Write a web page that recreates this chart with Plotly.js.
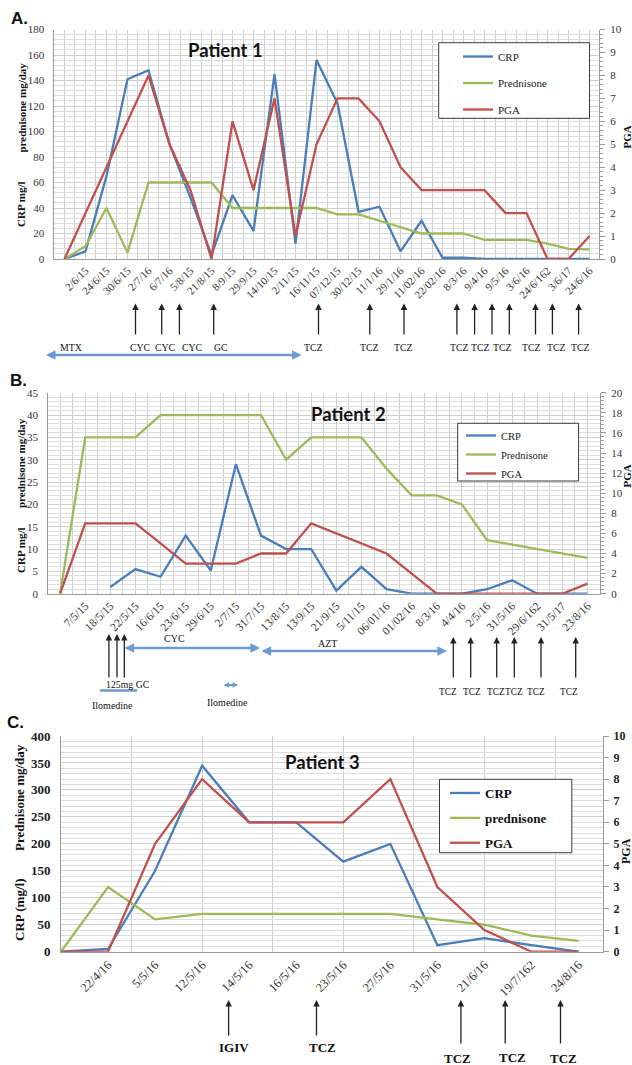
<!DOCTYPE html>
<html><head><meta charset="utf-8">
<script src="https://cdn.plot.ly/plotly-3.0.1.min.js"></script>
<style>body{margin:0;background:#fff}#chart{width:632px;height:1065px}</style>
</head><body><div id="chart"></div>
<script>
// ---------- Panel A (Patient 1) ----------
const catsA = ["", "2/6/15","24/6/15","30/6/15","2/7/16","6/7/16","5/8/15","21/8/15","8/9/15","29/9/15","14/10/15","2/11/15","16/11/15","07/12/15","30/12/15","11/1/16","29/1/16","11/02/16","22/02/16","8/3/16","9/4/16","9/5/16","3/6/16","24/6/162","3/6/17","24/6/16"];
const crpA  = [0,6,65,141,148,90,48,3,50,22,145,12,156,122,37,41,6,30,1,1,0,0,0,0,0,0];
const predA = [0,10,40,5,60,60,60,60,40,40,40,40,40,35,35,30,25,20,20,20,15,15,15,12,8,7.5];
const pgaA  = [0,2,4,6,8,5,3,0,6,3,7,1,5,7,7,6,4,3,3,3,3,2,2,0,0,1];

// ---------- Panel B (Patient 2) ----------
const catsB = ["", "7/5/15","18/5/15","22/5/15","16/6/15","23/6/15","29/6/15","2/7/15","31/7/15","13/8/15","13/9/15","21/9/15","5/11/15","06/01/16","01/02/16","8/3/16","4/4/16","2/5/16","31/5/16","29/6/162","31/5/17","23/8/16"];
const crpB  = [null,null,1.5,5.5,3.8,13,5.2,29,13,10,10,0.7,6,1,0,0,0,1,3,0,0,0];
const predB = [0,35,35,35,40,40,40,40,40,30,35,35,35,28,22,22,20,12,11,10,9,8];
const pgaB  = [0,7,7,7,5,3,3,3,4,4,7,6,5,4,2,0,0,0,0,0,0,1];

// ---------- Panel C (Patient 3) ----------
const catsC = ["", "22/4/16","5/5/16","12/5/16","14/5/16","16/5/16","23/5/16","27/5/16","31/5/16","21/6/16","19/7/162","24/8/16"];
const crpC  = [0,5,150,345,240,240,167,200,12,25,12,0];
const predC = [0,120,60,70,70,70,70,70,60,50,30,20];
const pgaC  = [0,0,5,8,6,6,6,8,3,1,0,0];

const W = 632, H = 1065;
const px = v => v / W, py = v => 1 - v / H;
const idx = a => a.map((_, i) => i);

const BLUE = "#4a7ebb", GREEN = "#9bbb59", RED = "#c0504d";
const GRID = "#cfcfcf", AX = "#9a9a9a";
const SERIF = "Liberation Serif, Times New Roman, serif";
const SANS = "Liberation Sans, Arial, sans-serif";

function tr(x, y, name, color, xa, ya, lg) {
  return {x, y, name, type: "scatter", mode: "lines", line: {color, width: 2.3},
          xaxis: xa, yaxis: ya, legend: lg, legendgroup: lg + name, connectgaps: false, hoverinfo: "skip"};
}

const data = [
  tr(idx(catsA), crpA, "CRP", BLUE, "x", "y", "legend"),
  tr(idx(catsA), predA, "Prednisone", GREEN, "x", "y", "legend"),
  tr(idx(catsA), pgaA, "PGA", RED, "x", "y2", "legend"),
  tr(idx(catsB), crpB, "CRP", BLUE, "x2", "y3", "legend2"),
  tr(idx(catsB), predB, "Prednisone", GREEN, "x2", "y3", "legend2"),
  tr(idx(catsB), pgaB, "PGA", RED, "x2", "y4", "legend2"),
  tr(idx(catsC), crpC, "CRP", BLUE, "x3", "y5", "legend3"),
  tr(idx(catsC), predC, "prednisone", GREEN, "x3", "y5", "legend3"),
  tr(idx(catsC), pgaC, "PGA", RED, "x3", "y6", "legend3")
];

function xAxis(cats, x0, x1, range, anchor, gridStep, fontSize, majorGrid) {
  const iv = idx(cats).slice(1);
  return {domain: [px(x0), px(x1)], range, anchor, tickmode: "array", tickvals: iv, ticktext: cats.slice(1),
    tickangle: -45, tickfont: {family: SERIF, size: fontSize, color: "#333"},
    showgrid: majorGrid, gridcolor: GRID, gridwidth: 1,
    minor: {tick0: 0, dtick: gridStep, showgrid: true, gridcolor: GRID, gridwidth: 1, ticks: ""},
    showline: true, linecolor: AX, linewidth: 1, ticks: "", zeroline: false, fixedrange: true};
}
function yLeft(y0, y1, range, dtick, minor, anchor, font) {
  return {domain: [py(y1), py(y0)], range, dtick, tick0: 0, anchor,
    showgrid: true, gridcolor: GRID, gridwidth: 1,
    minor: {dtick: minor, tick0: 0, showgrid: true, gridcolor: "#dedede", gridwidth: 1},
    showline: true, linecolor: AX, linewidth: 1, ticks: "", ticklabelstandoff: 7,
    tickfont: font, zeroline: false, fixedrange: true};
}
function yRight(range, dtick, minor, over, anchor, font, standoff) {
  return {range, dtick, tick0: 0, overlaying: over, side: "right", anchor,
    showgrid: false, showline: true, linecolor: AX, linewidth: 1,
    ticks: "outside", ticklen: 5, tickcolor: AX,
    minor: minor ? {dtick: minor, ticks: "outside", ticklen: 3, tickcolor: AX, showgrid: false} : undefined,
    ticklabelstandoff: standoff, tickfont: font, zeroline: false, fixedrange: true};
}

const tickF = {family: SERIF, size: 11, color: "#333"};
const tickFC = {family: SERIF, size: 13, color: "#222", weight: "bold"};
const tickFCR = {family: SERIF, size: 12, color: "#222", weight: "bold"};

function txt(x, y, text, size, bold, family, extra) {
  return Object.assign({xref: "paper", yref: "paper", x: px(x), y: py(y), text, showarrow: false,
    xanchor: "center", yanchor: "middle",
    font: {family: family || SERIF, size, color: "#111", weight: bold ? "bold" : "normal"}}, extra || {});
}
function upArrow(x, yTop, yBot) {
  return {xref: "paper", yref: "paper", x: px(x), y: py(yTop), ax: 0, ay: yBot - yTop, text: "",
    showarrow: true, arrowhead: 2, arrowsize: 1, arrowwidth: 1.3, arrowcolor: "#222"};
}
function span(x0, x1, y, size, width) {
  return {xref: "paper", yref: "paper", x: px(x1), y: py(y), ax: x0 - x1, ay: 0, text: "",
    showarrow: true, arrowhead: 2, arrowside: "end+start", arrowsize: size || 0.8, arrowwidth: width || 2.4, arrowcolor: "#6d9bd1"};
}

const ann = [];
// panel letters and titles
ann.push(txt(19, 18.5, "A.", 17, true, SANS));
ann.push(txt(18, 380, "B.", 17, true, SANS));
ann.push(txt(15, 722, "C.", 17, true, SANS));
ann.push(txt(225, 50, "Patient 1", 18.5, true, "Lato, sans-serif"));
ann.push(txt(349, 414, "Patient 2", 18.5, true, "Lato, sans-serif"));
ann.push(txt(323, 762, "Patient 3", 18.5, true, "Lato, sans-serif"));
// axis titles
const rot = {textangle: -90};
ann.push(txt(21, 107.5, "prednisone mg/day", 11, true, SERIF, rot));
ann.push(txt(21, 204, "CRP mg/l", 11, true, SERIF, rot));
ann.push(txt(626.5, 137, "PGA", 11, true, SERIF, rot));
ann.push(txt(21, 463, "prednisone mg/day", 11, true, SERIF, rot));
ann.push(txt(21, 550, "CRP mg/l", 11, true, SERIF, rot));
ann.push(txt(626.5, 476, "PGA", 11, true, SERIF, rot));
ann.push(txt(19, 798, "Prednisone mg/day", 13, true, SERIF, rot));
ann.push(txt(19, 910, "CRP (mg/l)", 13, true, SERIF, rot));
ann.push(txt(626, 851, "PGA", 12, true, SERIF, rot));

// Panel A treatment annotations
[135.5,161.7,179.4,213.7,318.5,369.8,404,456.9,474.6,492,509.3,535.5,552.4,578.6].forEach(x => ann.push(upArrow(x, 303.5, 336)));
[[70.6,"MTX"],[140,"CYC"],[164.5,"CYC"],[191.5,"CYC"],[221,"GC"],[313,"TCZ"],[369.8,"TCZ"],[403,"TCZ"],[459.7,"TCZ"],[481,"TCZ"],[502,"TCZ"],[531.5,"TCZ"],[556.5,"TCZ"],[580.6,"TCZ"]]
  .forEach(([x, t]) => ann.push(txt(x, 347.5, t, 9.8, false)));
ann.push(span(44.4, 301.6, 355));

// Panel B treatment annotations
[108.9,117,124.3].forEach(x => ann.push(upArrow(x, 634, 679)));
[453.3,470.7,496.7,514.3,541,575.7].forEach(x => ann.push(upArrow(x, 637, 679)));
[[447.6,"TCZ"],[471.8,"TCZ"],[495.5,"TCZ"],[514,"TCZ"],[535.5,"TCZ"],[568.5,"TCZ"]].forEach(([x, t]) => ann.push(txt(x, 692, t, 9.3, false)));
ann.push(txt(175, 638, "CYC", 10, false));
ann.push(span(123, 260, 648));
ann.push(txt(327, 643, "AZT", 10, false));
ann.push(span(260, 447, 651));
ann.push(txt(127.5, 684, "125mg GC", 9.8, false));
ann.push(txt(112.5, 705, "Ilomedine", 10, false));
ann.push(span(222, 238, 685, 0.5, 2.2));
ann.push(txt(227.6, 702, "Ilomedine", 10, false));

// Panel C treatment annotations
[[228.6,1037],[316.5,1037],[460.9,1045],[505.2,1045],[560.5,1045]].forEach(([x, b]) => ann.push(upArrow(x, 1000, b)));
[[233.9,1047,"IGIV"],[322.6,1047,"TCZ"],[457.7,1058.5,"TCZ"],[512,1057,"TCZ"],[563.7,1058.5,"TCZ"]]
  .forEach(([x, y, t]) => ann.push(txt(x, y, t, 13, true)));

// legend boxes
function box(x0, y0, x1, y1) {
  return {type: "rect", xref: "paper", yref: "paper", x0: px(x0), x1: px(x1), y0: py(y0), y1: py(y1),
    fillcolor: "#fff", line: {color: "#3a3a3a", width: 1}, layer: "above"};
}
const shapes = [
  box(438.7, 42.7, 589.5, 118.3),
  box(457.7, 423.3, 578.6, 481),
  box(439.5, 779.3, 571.8, 852.7),
  {type: "line", xref: "paper", yref: "paper", x0: px(100), x1: px(137), y0: py(690.5), y1: py(690.5), line: {color: "#6d9bd1", width: 2.4}}
];

function leg(x, y, font, gap) {
  return {x: px(x), y: py(y), xanchor: "left", yanchor: "top", bgcolor: "rgba(0,0,0,0)", borderwidth: 0,
    font, tracegroupgap: gap, traceorder: "grouped", itemclick: false, itemdoubleclick: false};
}

const layout = {
  width: W, height: H, margin: {l: 0, r: 0, t: 0, b: 0},
  paper_bgcolor: "#fff", plot_bgcolor: "#fff", showlegend: true,
  xaxis:  xAxis(catsA, 54.4, 599, [-0.48, 25.45], "y", 0.5, 11, true),
  yaxis:  yLeft(29.5, 259, [0, 180], 20, 4, "x", tickF),
  yaxis2: yRight([0, 10], 1, 0.2, "y", "x", tickF, 3),
  xaxis2: xAxis(catsB, 48.3, 600, [-0.47, 21.5], "y3", 0.5, 11.5, true),
  yaxis3: yLeft(392.7, 593.7, [0, 45], 5, 1, "x2", tickF),
  yaxis4: yRight([0, 20], 2, 0.4, "y3", "x2", tickF, 3),
  xaxis3: xAxis(catsC, 61, 603, [0, 11.52], "y5", 1.5, 12.5, false),
  yaxis5: yLeft(736, 951.7, [0, 400], 50, 10, "x3", tickFC),
  yaxis6: yRight([0, 10], 1, null, "y5", "x3", tickFCR, 2),
  legend:  leg(458, 42, {family: SERIF, size: 11, color: "#222"}, 7.5),
  legend2: leg(461, 421, {family: SERIF, size: 10.5, color: "#222"}, 0),
  legend3: leg(445, 778, {family: SERIF, size: 13, color: "#111", weight: "bold"}, 5),
  annotations: ann, shapes
};

Plotly.newPlot("chart", data, layout, {staticPlot: true, displayModeBar: false});
</script></body></html>
